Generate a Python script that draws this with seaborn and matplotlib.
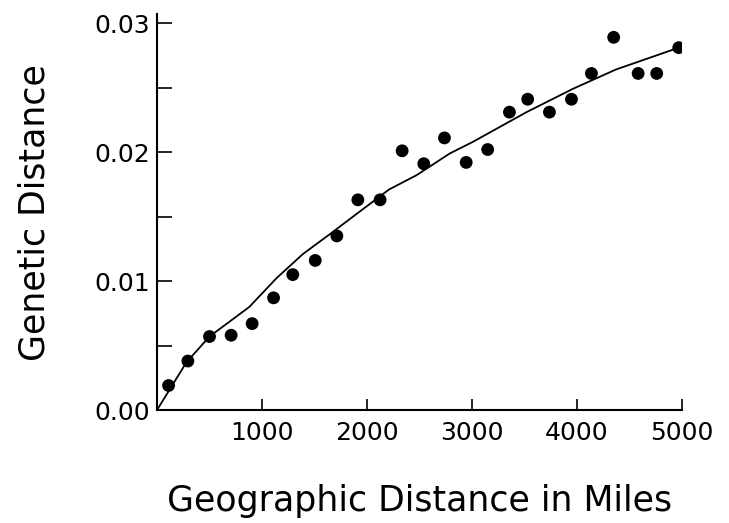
import numpy as np
import pandas as pd
import matplotlib
matplotlib.use("Agg")
import matplotlib.pyplot as plt
import seaborn as sns

sns.set_theme(style="white")
plt.rcParams['font.family'] = ['DejaVu Sans']
plt.rcParams['text.color'] = 'black'
plt.rcParams['axes.labelcolor'] = 'black'

# observed points (miles, genetic distance)
miles = [110, 294, 500, 706, 906, 1110, 1293, 1507, 1713, 1913, 2125, 2335, 2541,
         2738, 2945, 3150, 3357, 3531, 3738, 3948, 4138, 4350, 4583, 4760, 4970]
gdist = [0.0019, 0.0038, 0.0057, 0.0058, 0.0067, 0.0087, 0.0105, 0.0116, 0.0135,
         0.0163, 0.0163, 0.0201, 0.0191, 0.0211, 0.0192, 0.0202, 0.0231, 0.0241,
         0.0231, 0.0241, 0.0261, 0.0289, 0.0261, 0.0261, 0.0281]

# fitted curve
curve_x = [0, 280, 500, 880, 1135, 1390, 1640, 1900, 2210, 2470, 2790, 3010,
           3520, 3960, 4370, 4970]
curve_y = [0, 0.0037, 0.0057, 0.0080, 0.0102, 0.0121, 0.0136, 0.0152, 0.0171,
           0.0182, 0.0199, 0.0208, 0.0231, 0.0249, 0.0264, 0.0281]

pts = pd.DataFrame({'miles': miles, 'gd': gdist})
fit = pd.DataFrame({'miles': curve_x, 'gd': curve_y})

fig = plt.figure(figsize=(7.29, 5.23), dpi=100)
ax = fig.add_axes([0.2154, 0.216, 0.72, 0.757])

sns.lineplot(data=fit, x='miles', y='gd', color='black', lw=1.3, ax=ax)
sns.scatterplot(data=pts, x='miles', y='gd', color='black', s=85,
                edgecolor='none', ax=ax)

ax.set_xlim(0, 5000)
ax.set_ylim(0, 0.0307)
ax.set_xticks([1000, 2000, 3000, 4000, 5000])
ax.set_yticks([0, 0.005, 0.01, 0.015, 0.02, 0.025, 0.03])
ax.set_yticklabels(['0.00', '', '0.01', '', '0.02', '', '0.03'])
ax.tick_params(axis='x', direction='in', length=8, width=1.2, labelsize=18,
               pad=8, bottom=True, colors='black')
ax.tick_params(axis='y', direction='in', length=11, width=1.2, labelsize=18,
               pad=5, left=True, colors='black')
sns.despine(ax=ax)
for s in ['left', 'bottom']:
    ax.spines[s].set_color('black')
    ax.spines[s].set_linewidth(1.5)

ax.set_xlabel('Geographic Distance in Miles', fontsize=25, labelpad=28)
ax.set_ylabel('Genetic Distance', fontsize=25, labelpad=31)

fig.savefig('out.png', dpi=100)
